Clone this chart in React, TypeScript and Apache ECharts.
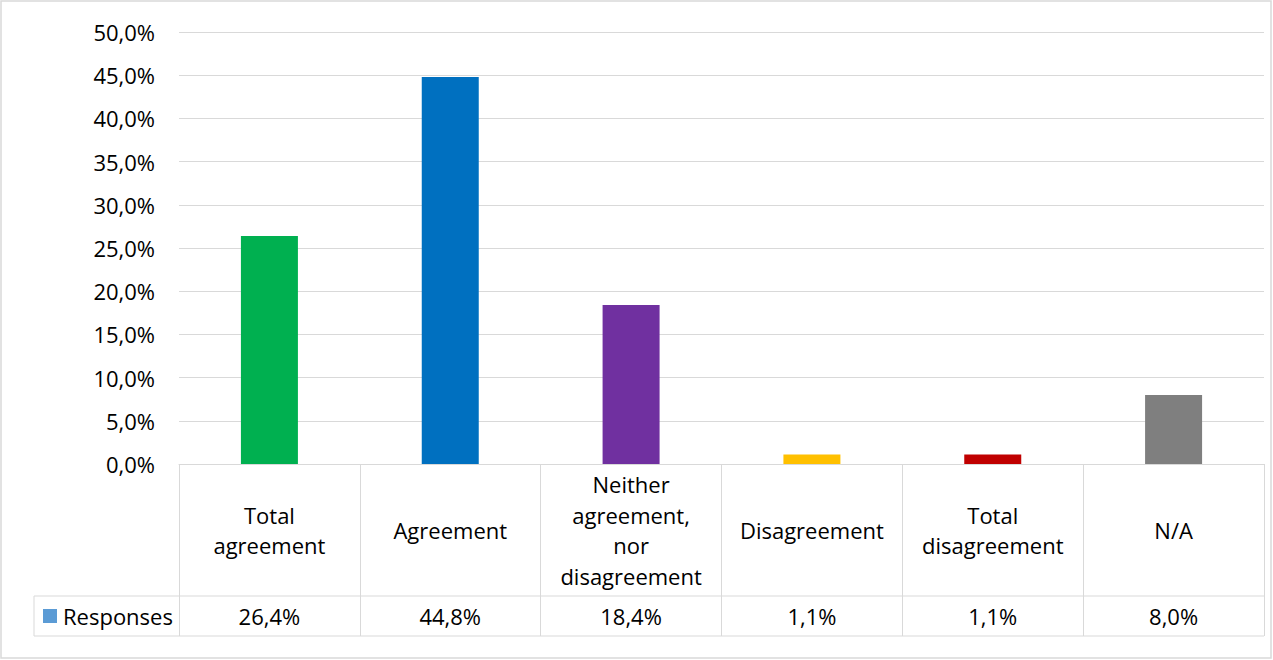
import React, { useEffect, useRef } from "react";
import * as echarts from "echarts";

const categories = [
  "Total\nagreement",
  "Agreement",
  "Neither\nagreement,\nnor\ndisagreement",
  "Disagreement",
  "Total\ndisagreement",
  "N/A",
];
const values = [26.4, 44.8, 18.4, 1.1, 1.1, 8.0];
const barColors = ["#00b050", "#0070c0", "#7030a0", "#ffc000", "#c00000", "#7f7f7f"];
const seriesName = "Responses";
const legendColor = "#5b9bd5";
const yMin = 0;
const yMax = 50;
const yInterval = 5;

const FONT = "'Open Sans', sans-serif";
const FS = 22;
const GRID_COLOR = "#d9d9d9";

const fmt = (v: number) => v.toFixed(1).replace(".", ",") + "%";

export default function App() {
  const ref = useRef<HTMLDivElement>(null);
  useEffect(() => {
    if (!ref.current) return;
    const chart = echarts.init(ref.current, undefined, { renderer: "svg" });
    const gridLeft = 179;
    const gridRight = 9;
    const gridTop = 32;
    const gridBottom = 196;
    const W = 1273;
    const H = 660;
    const axisY = H - gridBottom;
    const rowLine = 596;
    const tableBottom = 636;
    const legendLeft = 34;
    chart.setOption({
      animation: false,
      textStyle: { fontFamily: FONT },
      grid: [
        { left: gridLeft, right: gridRight, top: gridTop, bottom: gridBottom },
        { left: gridLeft, right: gridRight, top: gridTop, bottom: gridBottom },
      ],
      legend: {
        left: 43,
        top: 605,
        icon: "rect",
        itemWidth: 14,
        itemHeight: 14,
        selectedMode: false,
        padding: 0,
        textStyle: { fontSize: FS, color: "#000", fontFamily: FONT, padding: [0, 0, 0, 1] },
        data: [seriesName],
      },
      xAxis: [
        {
          type: "category",
          gridIndex: 0,
          data: categories,
          axisLine: { show: true, lineStyle: { color: GRID_COLOR, width: 1 } },
          axisTick: { show: true, length: tableBottom - axisY, lineStyle: { color: GRID_COLOR, width: 1 } },
          axisLabel: {
            interval: 0,
            margin: 530 - axisY,
            verticalAlign: "middle",
            lineHeight: 30.5,
            fontSize: FS,
            color: "#000",
            fontFamily: FONT,
          },
        },
        {
          type: "category",
          gridIndex: 1,
          data: categories,
          axisLine: { show: false },
          axisTick: { show: false },
          axisLabel: {
            interval: 0,
            margin: 616 - axisY,
            verticalAlign: "middle",
            fontSize: FS,
            color: "#000",
            fontFamily: FONT,
            formatter: (_v: string, i: number) => fmt(values[i]),
          },
        },
      ],
      yAxis: [
        {
          type: "value",
          gridIndex: 0,
          min: yMin,
          max: yMax,
          interval: yInterval,
          axisLine: { show: false },
          axisTick: { show: false },
          splitLine: { lineStyle: { color: GRID_COLOR, width: 1 } },
          axisLabel: {
            margin: 24,
            fontSize: FS,
            color: "#000",
            fontFamily: FONT,
            formatter: (v: number) => fmt(v),
          },
        },
        {
          type: "value",
          gridIndex: 1,
          min: yMin,
          max: yMax,
          show: false,
        },
      ],
      series: [
        {
          name: seriesName,
          type: "bar",
          xAxisIndex: 0,
          yAxisIndex: 0,
          barWidth: 57,
          itemStyle: { color: legendColor },
          data: values.map((v, i) => ({ value: v, itemStyle: { color: barColors[i] } })),
        },
      ],
      graphic: [
        {
          type: "rect",
          shape: { x: 1, y: 1, width: W - 3, height: H - 3 },
          style: { fill: "none", stroke: GRID_COLOR, lineWidth: 1.5 },
          silent: true,
        },
        {
          type: "line",
          shape: { x1: legendLeft, y1: rowLine, x2: W - gridRight, y2: rowLine },
          style: { stroke: GRID_COLOR, lineWidth: 1 },
          silent: true,
        },
        {
          type: "line",
          shape: { x1: legendLeft, y1: tableBottom, x2: W - gridRight, y2: tableBottom },
          style: { stroke: GRID_COLOR, lineWidth: 1 },
          silent: true,
        },
        {
          type: "line",
          shape: { x1: legendLeft, y1: rowLine, x2: legendLeft, y2: tableBottom },
          style: { stroke: GRID_COLOR, lineWidth: 1 },
          silent: true,
        },
      ],
    });
    return () => chart.dispose();
  }, []);
  return (
    <div
      ref={ref}
      style={{ position: "fixed", left: 0, top: 0, width: 1273, height: 660, background: "#fff" }}
    />
  );
}
